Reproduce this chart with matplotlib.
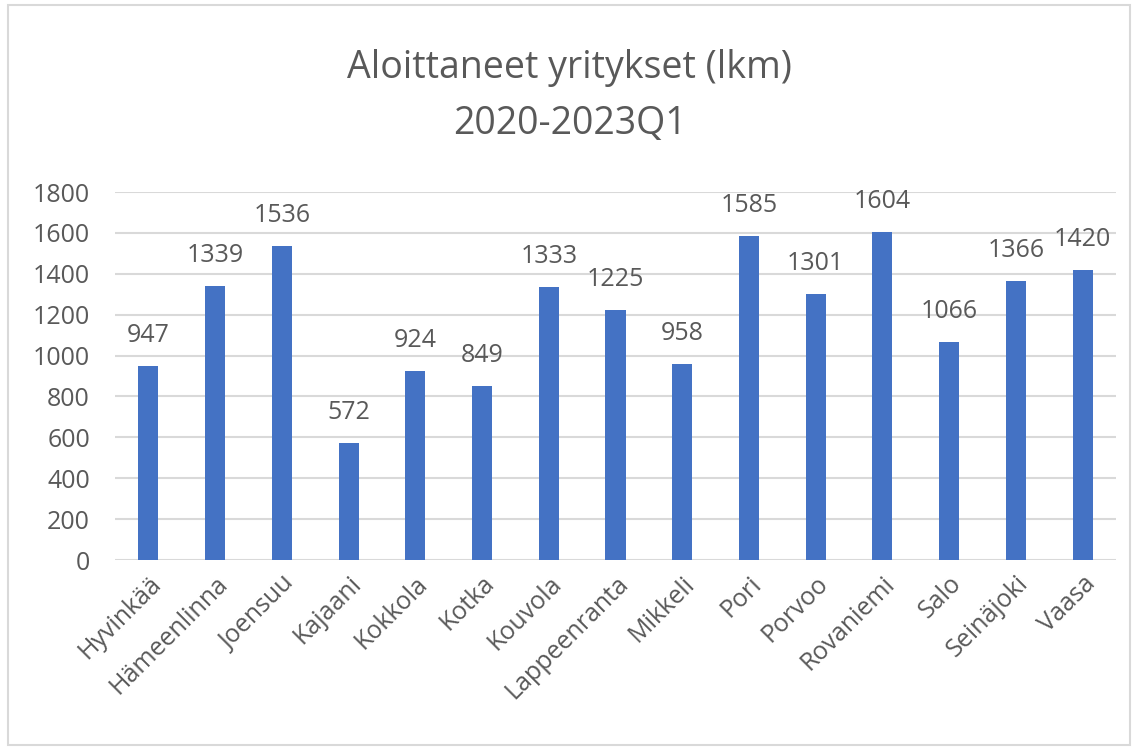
import matplotlib.pyplot as plt
from matplotlib.patches import Rectangle

# kaupungit ja aloittaneet yritykset 2020-2023Q1
cities = ['Hyvinkää', 'Hämeenlinna', 'Joensuu', 'Kajaani', 'Kokkola', 'Kotka',
          'Kouvola', 'Lappeenranta', 'Mikkeli', 'Pori', 'Porvoo', 'Rovaniemi',
          'Salo', 'Seinäjoki', 'Vaasa']
counts = [947, 1339, 1536, 572, 924, 849, 1333, 1225, 958, 1585, 1301, 1604,
          1066, 1366, 1420]
yticks = [0, 200, 400, 600, 800, 1000, 1200, 1400, 1600, 1800]

plt.rcParams['font.family'] = ['Open Sans', 'DejaVu Sans']
txt = '#595959'

fig = plt.figure(figsize=(11.39, 7.49), dpi=100)
ax = fig.add_axes([115 / 1139, 1 - 560 / 749, 1001 / 1139, 368 / 749])

x = list(range(len(cities)))
ax.bar(x, counts, width=0.3, color='#4472C4', zorder=3)
for xi, v in zip(x, counts):
    ax.annotate(str(v), (xi, v), xytext=(0, 13), textcoords='offset points',
                ha='center', va='bottom', fontsize=18, color=txt)

ax.set_xlim(-0.5, len(cities) - 0.5)
ax.set_ylim(0, 1800)
ax.set_yticks(yticks)
ax.set_xticks(x)
ax.set_xticklabels(cities, rotation=45, ha='right', rotation_mode='anchor')
ax.tick_params(axis='both', length=0, labelsize=18, labelcolor=txt)
ax.tick_params(axis='x', pad=8)
ax.tick_params(axis='y', pad=18)
ax.grid(axis='y', color='#d9d9d9', linewidth=1.5, zorder=0)
for s in ax.spines.values():
    s.set_visible(False)

fig.text(0.5, 1 - 68 / 749, 'Aloittaneet yritykset (lkm)', ha='center', va='center',
         fontsize=27, color=txt)
fig.text(0.5, 1 - 124 / 749, '2020-2023Q1', ha='center', va='center',
         fontsize=27, color=txt)

fig.patches.append(Rectangle((8 / 1139, 4 / 749), 1122 / 1139, 740 / 749,
                             transform=fig.transFigure, fill=False,
                             edgecolor='#d9d9d9', linewidth=1.5))

fig.savefig('out.png', dpi=100)
